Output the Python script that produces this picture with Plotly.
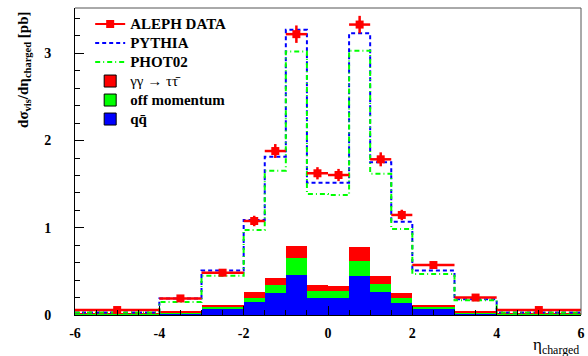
import plotly.graph_objects as go

# ---- data ----
edges = [-6, -4, -3, -2, -1.5, -1, -0.5, 0, 0.5, 1, 1.5, 2, 3, 4, 6]
aleph = [0.057, 0.19, 0.485, 1.078, 1.88, 3.22, 1.625, 1.605, 3.33, 1.785, 1.147, 0.573, 0.20, 0.057]
aleph_err = [0.02, 0.03, 0.04, 0.06, 0.08, 0.10, 0.07, 0.07, 0.10, 0.08, 0.06, 0.04, 0.03, 0.02]
pythia = [0.03, 0.19, 0.51, 1.09, 1.815, 3.27, 1.517, 1.517, 3.23, 1.75, 1.07, 0.51, 0.18, 0.03]
phot02 = [0.03, 0.15, 0.45, 0.975, 1.655, 3.02, 1.388, 1.375, 3.03, 1.62, 0.985, 0.47, 0.17, 0.03]
qq = [0.01, 0.015, 0.07, 0.145, 0.256, 0.46, 0.19, 0.19, 0.45, 0.26, 0.14, 0.07, 0.02, 0.01]
offmom = [0.005, 0.01, 0.025, 0.055, 0.089, 0.19, 0.09, 0.08, 0.17, 0.095, 0.05, 0.025, 0.012, 0.005]
tautau = [0.005, 0.01, 0.02, 0.06, 0.085, 0.14, 0.064, 0.063, 0.16, 0.095, 0.06, 0.02, 0.015, 0.005]
xticks = [-6, -4, -2, 0, 2, 4, 6]
yticks = [0, 1, 2, 3]

centers = [(a + b) / 2 for a, b in zip(edges[:-1], edges[1:])]
widths = [b - a for a, b in zip(edges[:-1], edges[1:])]
halfw = [w / 2 for w in widths]

RED, GREEN, BLUE = "#ff0000", "#00ff00", "#0000ff"
FONT = "Liberation Serif, Times New Roman, DejaVu Serif, serif"


def lg(txt, bold=True):
    inner = "<b>%s</b>" % txt if bold else txt
    return '<span style="font-size:15px">%s</span>' % inner


fig = go.Figure()

# stacked background histograms
for name, vals, col in [("qq", qq, BLUE), ("off", offmom, GREEN), ("tt", tautau, RED)]:
    fig.add_trace(go.Bar(x=centers, y=vals, width=widths, marker=dict(color=col, line=dict(width=0)),
                         showlegend=False, hoverinfo="skip"))

# MC step histograms
def step(vals):
    return list(edges), list(vals) + [vals[-1]]

xs, ys = step(pythia)
fig.add_trace(go.Scatter(x=xs, y=ys, mode="lines", line=dict(color=BLUE, width=2, dash="4px,3px", shape="hv"),
                         name=lg("PYTHIA"), legendrank=2))
xs, ys = step(phot02)
fig.add_trace(go.Scatter(x=xs, y=ys, mode="lines", line=dict(color=GREEN, width=2, dash="5px,3px,1px,3px", shape="hv"),
                         name=lg("PHOT02"), legendrank=3))

# data
fig.add_trace(go.Scatter(x=centers, y=aleph, mode="markers",
                         marker=dict(symbol="square", size=8, color=RED),
                         error_x=dict(type="data", array=halfw, color=RED, thickness=2.5, width=0),
                         error_y=dict(type="data", array=aleph_err, color=RED, thickness=2.5, width=0),
                         showlegend=False))

# legend-only entries
fig.add_trace(go.Scatter(x=[None], y=[None], mode="lines+markers", line=dict(color=RED, width=2),
                         marker=dict(symbol="square", size=8, color=RED), name=lg("ALEPH DATA"), legendrank=1))
fig.add_trace(go.Bar(x=[None], y=[None], marker=dict(color=RED, line=dict(color="black", width=1)),
                     name=lg("γγ → ττ̄", bold=False), legendrank=4))
fig.add_trace(go.Bar(x=[None], y=[None], marker=dict(color=GREEN, line=dict(color="black", width=1)),
                     name=lg("off momentum"), legendrank=5))
fig.add_trace(go.Bar(x=[None], y=[None], marker=dict(color=BLUE, line=dict(color="black", width=1)),
                     name=lg("qq̄"), legendrank=6))

fig.update_layout(
    width=588, height=356,
    margin=dict(l=75, r=3, t=8, b=41),
    paper_bgcolor="white", plot_bgcolor="white",
    barmode="stack", bargap=0,
    font=dict(family=FONT, color="black"),
    legend=dict(x=0.03, y=0.995, xanchor="left", yanchor="top", bgcolor="rgba(0,0,0,0)",
                font=dict(family=FONT, size=12.3, color="black"), tracegroupgap=0, itemwidth=30,
                traceorder="normal"),
)
fig.update_xaxes(range=[-6, 6], tickvals=xticks, ticktext=["<b>%d</b>" % v for v in xticks],
                 ticks="inside", ticklen=9, tickwidth=1, tickcolor="black",
                 minor=dict(dtick=0.5, ticks="inside", ticklen=5, tickcolor="black"),
                 showline=True, linecolor="black", linewidth=1, showgrid=False, zeroline=False,
                 tickfont=dict(family=FONT, size=14), ticklabelstandoff=5, ticklabeloverflow="allow")
fig.update_yaxes(range=[0, 3.52], tickvals=yticks, ticktext=["<b>%d</b>" % v for v in yticks],
                 ticks="inside", ticklen=9, tickwidth=1, tickcolor="black",
                 minor=dict(dtick=0.2, ticks="inside", ticklen=5, tickcolor="black"),
                 showline=True, linecolor="black", linewidth=1, showgrid=False, zeroline=False,
                 tickfont=dict(family=FONT, size=14), ticklabelstandoff=20)

# gray frame top/right
fig.add_shape(type="line", xref="paper", yref="paper", x0=0, x1=1, y0=1, y1=1, line=dict(color="#555", width=1))
fig.add_shape(type="line", xref="paper", yref="paper", x0=1, x1=1, y0=0, y1=1, line=dict(color="#555", width=1))

fig.add_annotation(text="<b>dσ<sub>vis</sub>/dη<sub>charged</sub> [pb]</b>", textangle=-90,
                   xref="paper", yref="paper", x=-0.102, y=0.995, xanchor="center", yanchor="top",
                   showarrow=False, font=dict(family=FONT, size=15))
fig.add_annotation(text="η<sub>charged</sub>", xref="paper", yref="paper", x=1.0, y=-0.058,
                   xanchor="right", yanchor="top", showarrow=False, font=dict(family=FONT, size=17))

fig.write_html("out.html")
